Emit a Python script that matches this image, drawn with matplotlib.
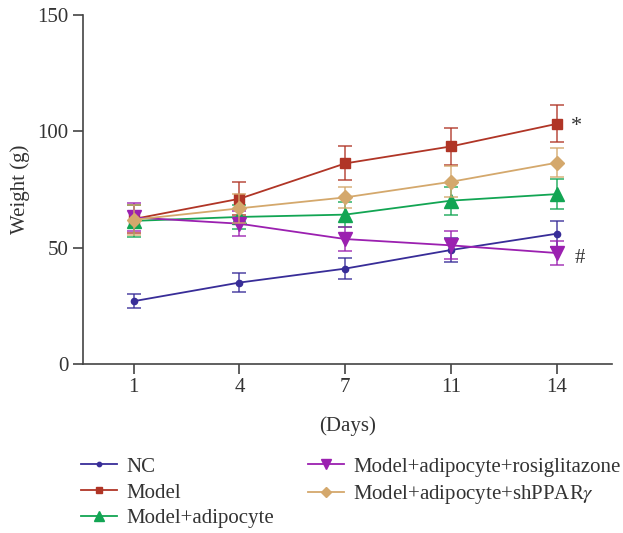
import matplotlib
matplotlib.use("Agg")
import matplotlib.pyplot as plt
import numpy as np

plt.rcParams['font.family'] = ['Liberation Serif', 'DejaVu Serif']
plt.rcParams['mathtext.fontset'] = 'stix'

days = ["1", "4", "7", "11", "14"]
series_names = ["NC", "Model", "Model+adipocyte", "Model+adipocyte+rosiglitazone",
                "Model+adipocyte+shPPAR$\\gamma$"]
nc = [27.0, 35.0, 41.0, 49.0, 56.0]
nc_err = [3.0, 4.2, 4.6, 5.3, 5.5]
model = [62.3, 71.0, 86.2, 93.5, 103.2]
model_err = [6.0, 7.0, 7.3, 8.0, 8.0]
adipo = [61.5, 63.2, 64.2, 70.2, 73.0]
adipo_err = [7.0, 5.0, 5.5, 6.0, 6.5]
rosi = [63.0, 60.3, 53.7, 51.0, 47.7]
rosi_err = [6.0, 5.5, 5.3, 6.0, 5.0]
shp = [62.0, 66.9, 71.6, 78.3, 86.5]
shp_err = [6.5, 6.3, 4.5, 6.6, 6.3]

colors = ["#382d98", "#b03526", "#12a553", "#9b20b0", "#d4a86c"]
markers = ["o", "s", "^", "v", "D"]
msizes = [4.5, 7, 10, 10, 7.5]

fig = plt.figure(figsize=(6.23, 5.33), dpi=100)
ax = fig.add_axes([0.133, 0.317, 0.849, 0.655])
x = np.arange(len(days))

data = [(nc, nc_err), (model, model_err), (adipo, adipo_err), (rosi, rosi_err), (shp, shp_err)]
draw_order = [0, 3, 2, 4, 1]
handles = {}
for i in draw_order:
    vals, err = data[i]
    ax.errorbar(x, vals, yerr=err, fmt='none', ecolor=colors[i], alpha=0.75,
                elinewidth=1.3, capsize=5, capthick=1.3, zorder=2 + i)
    h, = ax.plot(x, vals, color=colors[i], marker=markers[i], ms=msizes[i],
                 lw=1.3, mec=colors[i], zorder=3 + i, label=series_names[i])
    handles[i] = h

ax.text(x[-1] + 0.13, model[-1] - 1.0, "*", fontsize=16, ha='left', va='center', color='#333333')
ax.text(x[-1] + 0.17, rosi[-1] - 2.5, "#", fontsize=15, ha='left', va='center', color='#333333')

ax.set_xlim(-0.48, 4.52)
ax.set_ylim(0, 150)
ax.set_xticks(x)
ax.set_xticklabels(days)
ax.set_yticks([0, 50, 100, 150])
ax.spines['top'].set_visible(False)
ax.spines['right'].set_visible(False)
for s in ['left', 'bottom']:
    ax.spines[s].set_color('#444444')
    ax.spines[s].set_linewidth(1.2)
ax.tick_params(direction='out', length=7, width=1.2, color='#444444',
               labelsize=15, labelcolor='#333333')
ax.tick_params(axis='x', pad=3)
ax.set_ylabel("Weight (g)", fontsize=15, color='#333333', labelpad=5)
ax.set_xlabel("(Days)", fontsize=15, color='#333333', labelpad=14)

fig.legend([handles[i] for i in range(5)], series_names, loc='upper left',
           bbox_to_anchor=(0.117, 0.158), ncol=2, frameon=False, fontsize=15,
           handlelength=1.7, handletextpad=0.45, labelspacing=0.3,
           columnspacing=1.65, borderaxespad=0, labelcolor='#333333',
           markerscale=0.7)

fig.savefig("out.png", dpi=100)
